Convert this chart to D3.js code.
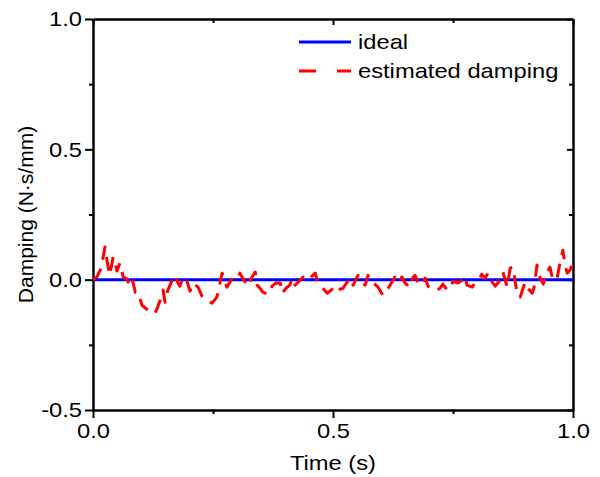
<!DOCTYPE html>
<html><head><meta charset="utf-8">
<script src="https://cdn.jsdelivr.net/npm/d3@7/dist/d3.min.js"></script>
<style>body{margin:0;background:#fff}svg{display:block}text{font-family:"Liberation Sans",Arial,sans-serif;fill:#000}</style>
</head><body><svg id="c" width="600" height="477"></svg>
<script>
const time = [0,0.008,0.017,0.025,0.029,0.035,0.042,0.046,0.050,0.056,0.063,0.071,0.077,0.083,0.088,0.094,0.102,0.110,0.119,0.129,0.133,0.140,0.146,0.150,0.156,0.165,0.171,0.177,0.181,0.188,0.196,0.202,0.208,0.219,0.227,0.238,0.248,0.258,0.269,0.273,0.279,0.290,0.300,0.306,0.313,0.323,0.331,0.338,0.342,0.348,0.354,0.365,0.373,0.381,0.390,0.394,0.402,0.410,0.415,0.421,0.427,0.438,0.446,0.452,0.463,0.467,0.477,0.488,0.498,0.504,0.515,0.521,0.529,0.535,0.542,0.552,0.560,0.567,0.573,0.583,0.594,0.604,0.615,0.629,0.635,0.644,0.650,0.660,0.667,0.671,0.677,0.685,0.692,0.698,0.706,0.717,0.723,0.729,0.738,0.744,0.750,0.760,0.769,0.775,0.779,0.790,0.796,0.806,0.810,0.817,0.823,0.827,0.838,0.848,0.854,0.863,0.869,0.875,0.883,0.890,0.900,0.906,0.915,0.919,0.925,0.929,0.938,0.946,0.952,0.958,0.967,0.973,0.979,0.983,0.988,0.994,1.000];
const estimated = [0,0.010,0.044,0.125,0.075,0.017,0.087,0.067,0.033,0.063,0.010,0.002,-0.029,-0.006,-0.048,-0.048,-0.098,-0.110,-0.125,-0.129,-0.113,-0.079,-0.040,-0.087,-0.040,-0.002,0.017,-0.013,-0.025,0.010,-0.006,-0.044,-0.013,-0.029,-0.063,-0.079,-0.090,-0.067,0.025,-0.002,-0.029,0.006,0.002,0.025,0.002,-0.025,0.010,0.029,-0.021,-0.033,-0.048,-0.056,-0.025,-0.013,-0.013,-0.052,-0.033,-0.021,0.006,-0.021,-0.010,0.010,-0.002,0.006,0.025,-0.002,-0.029,-0.052,-0.037,-0.021,-0.037,-0.033,-0.010,0.006,-0.021,0.017,-0.010,-0.021,0.017,-0.010,-0.029,-0.060,-0.033,0.010,-0.010,0.010,-0.013,-0.029,0.010,0.017,-0.010,-0.021,0.006,-0.025,-0.033,-0.040,-0.033,-0.017,-0.040,-0.033,-0.006,-0.013,-0.002,0.013,-0.021,-0.029,-0.010,0.006,0.021,0.006,0.025,0.002,-0.025,-0.002,0.029,-0.029,0.044,0.048,-0.048,-0.067,-0.010,-0.033,-0.052,-0.029,0.056,0.017,-0.017,0.029,0.048,-0.002,0.006,0.067,0.113,0.056,0.025,0.037,0.067];
const idealTime = [0,1];
const idealValue = [0,0];
const xTicks = [0,0.5,1.0];
const xMinor = [0.25,0.75];
const yTicks = [-0.5,0,0.5,1.0];
const yMinor = [-0.25,0.25,0.75];
const seriesNames = ["ideal","estimated damping"];
const xTitle = "Time (s)";
const yTitle = "Damping (N·s/mm)";

const svg = d3.select("#c");
const L=93,R=573,T=19,B=410;
const x = d3.scaleLinear().domain([0,1]).range([L,R]);
const y = d3.scaleLinear().domain([-0.5,1.0]).range([B,T]);
const fmt = v => d3.format(".1f")(v).replace("−","-");
const fs = 21;
const SX = 1.13;
function stretch(sel){sel.each(function(){const t=d3.select(this);const ax=+t.attr("x")||0;t.attr("transform",`translate(${ax},0) scale(${SX},1) translate(${-ax},0)`);});}

function styleAx(g){g.selectAll("path.domain").attr("stroke","#000").attr("stroke-width",2.5);g.selectAll(".tick line").attr("stroke","#000").attr("stroke-width",2);g.selectAll(".tick text").style("font-size",fs+"px").attr("fill","#000").call(stretch);}
svg.append("g").attr("transform",`translate(0,${B})`).call(d3.axisBottom(x).tickValues(xTicks).tickFormat(fmt).tickSize(8).tickPadding(5).tickSizeOuter(0)).call(styleAx);
svg.append("g").attr("transform",`translate(0,${B})`).call(d3.axisBottom(x).tickValues(xMinor).tickFormat("").tickSize(4).tickSizeOuter(0)).call(styleAx).select(".domain").remove();
svg.append("g").attr("transform",`translate(${L},0)`).call(d3.axisLeft(y).tickValues(yTicks).tickFormat(fmt).tickSize(8).tickPadding(3).tickSizeOuter(0)).call(styleAx);
svg.append("g").attr("transform",`translate(${L},0)`).call(d3.axisLeft(y).tickValues(yMinor).tickFormat("").tickSize(4).tickSizeOuter(0)).call(styleAx).select(".domain").remove();
svg.append("g").attr("transform",`translate(0,${T})`).call(d3.axisTop(x).tickValues(xTicks).tickFormat("").tickSize(-6).tickSizeOuter(0)).call(styleAx);
svg.append("g").attr("transform",`translate(0,${T})`).call(d3.axisTop(x).tickValues(xMinor).tickFormat("").tickSize(-4).tickSizeOuter(0)).call(styleAx).select(".domain").remove();
svg.append("g").attr("transform",`translate(${R},0)`).call(d3.axisRight(y).tickValues(yTicks).tickFormat("").tickSize(-6).tickSizeOuter(0)).call(styleAx);
svg.append("g").attr("transform",`translate(${R},0)`).call(d3.axisRight(y).tickValues(yMinor).tickFormat("").tickSize(-4).tickSizeOuter(0)).call(styleAx).select(".domain").remove();

const line = d3.line().x(d=>x(d[0])).y(d=>y(d[1]));
svg.append("path").datum(idealTime.map((t,i)=>[t,idealValue[i]])).attr("d",line).attr("fill","none").attr("stroke","#0000ff").attr("stroke-width",3);
svg.append("path").datum(time.map((t,i)=>[t,estimated[i]])).attr("d",line).attr("fill","none").attr("stroke","#ff0000").attr("stroke-width",3).attr("stroke-dasharray","14,9").attr("stroke-linejoin","round");

const lg = svg.append("g");
lg.append("line").attr("x1",299).attr("x2",351).attr("y1",42).attr("y2",42).attr("stroke","#0000ff").attr("stroke-width",3);
lg.append("text").attr("x",358).attr("y",49).style("font-size",fs+"px").text(seriesNames[0]).call(stretch);
lg.append("line").attr("x1",299).attr("x2",351).attr("y1",71).attr("y2",71).attr("stroke","#ff0000").attr("stroke-width",3).attr("stroke-dasharray","17,21");
lg.append("text").attr("x",358).attr("y",78).style("font-size",fs+"px").text(seriesNames[1]).call(stretch);

svg.append("text").attr("x",(L+R)/2).attr("y",470).attr("text-anchor","middle").style("font-size",fs+"px").text(xTitle).call(stretch);
svg.append("text").attr("transform",`translate(33,${(T+B)/2}) rotate(-90)`).attr("text-anchor","middle").style("font-size",fs+"px").text(yTitle);
</script></body></html>
